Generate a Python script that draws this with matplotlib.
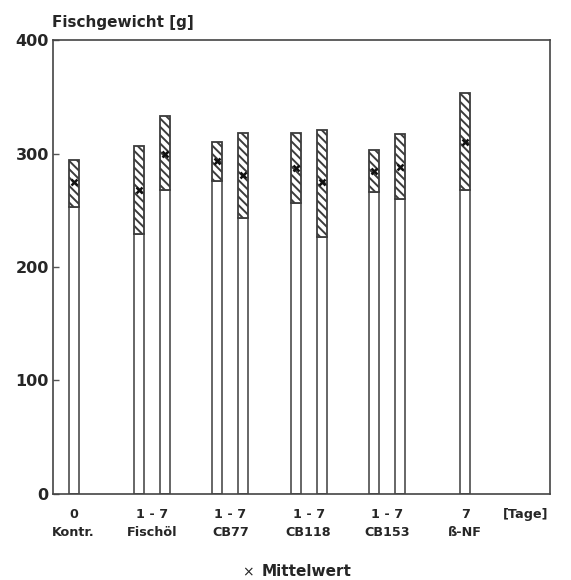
import matplotlib
matplotlib.use('Agg')
from matplotlib import pyplot as plt

plt.rcParams['font.family'] = ['DejaVu Sans']
plt.rcParams['hatch.linewidth'] = 1.4

# Gruppen, Versuchstage und Fischgewichte [g] (Minimum, Mittelwert, Maximum)
groups = ['Kontr.', 'Fischöl', 'CB77', 'CB118', 'CB153', 'ß-NF']
days = ['0', '1 - 7', '1 - 7', '1 - 7', '1 - 7', '7']
n_bars = [1, 2, 2, 2, 2, 1]
w_min = [253, 229, 268, 276, 243, 256, 226, 266, 260, 268]
w_mean = [275, 268, 300, 293, 281, 287, 275, 285, 288, 310]
w_max = [294, 307, 333, 310, 318, 318, 321, 303, 317, 353]

ink = '#262626'
fig = plt.figure(figsize=(5.71, 5.80), dpi=100)
ax = fig.add_axes([0.0928, 0.1483, 0.8704, 0.7827])

# x-Positionen der Saeulen: eine oder zwei pro Gruppe
xs = []
for g, n in enumerate(n_bars):
    if n == 1:
        xs.append(g)
    else:
        xs += [g - 0.166, g + 0.166]

bw = 0.128
lo = w_min
span = [b - a for a, b in zip(w_min, w_max)]
ax.bar(xs, lo, width=bw, color='white', edgecolor='#5a5a5a', linewidth=1.3)
ax.bar(xs, span, bottom=lo, width=bw, color='white', edgecolor='#3c3c3c',
       hatch='\\\\\\\\', linewidth=1.3)
ax.plot(xs, w_mean, linestyle='none', marker='x', markersize=4,
        markeredgewidth=1.8, color='#111111')

ax.set_xlim(-0.264, 6.083)
ax.set_ylim(0, 400)
ax.set_yticks([0, 100, 200, 300, 400])
ax.tick_params(axis='y', direction='in', length=4, width=1, color='#555555',
               labelsize=11.5, pad=3, labelcolor=ink)
for t in ax.get_yticklabels():
    t.set_fontweight('bold')

ticks = list(range(len(groups))) + [5.77]
labels = [d + '\n' + g for d, g in zip(days, groups)] + ['[Tage]\n']
ax.set_xticks(ticks)
ax.set_xticklabels(labels, fontsize=9.2, fontweight='bold', color=ink,
                   linespacing=1.55)
ax.tick_params(axis='x', length=0, pad=10)

for s in ax.spines.values():
    s.set_color('#444444')
    s.set_linewidth(1.2)

fig.text(0.091, 1 - 23 / 580, 'Fischgewicht [g]', fontsize=11, fontweight='bold',
         color=ink, va='center', ha='left')
fig.text(248 / 571, 1 - 572 / 580, '×', fontsize=10, color=ink,
         va='center', ha='center')
fig.text(262 / 571, 1 - 572 / 580, 'Mittelwert', fontsize=11,
         fontweight='bold', color=ink, va='center', ha='left')

fig.savefig('out.png', dpi=100)
